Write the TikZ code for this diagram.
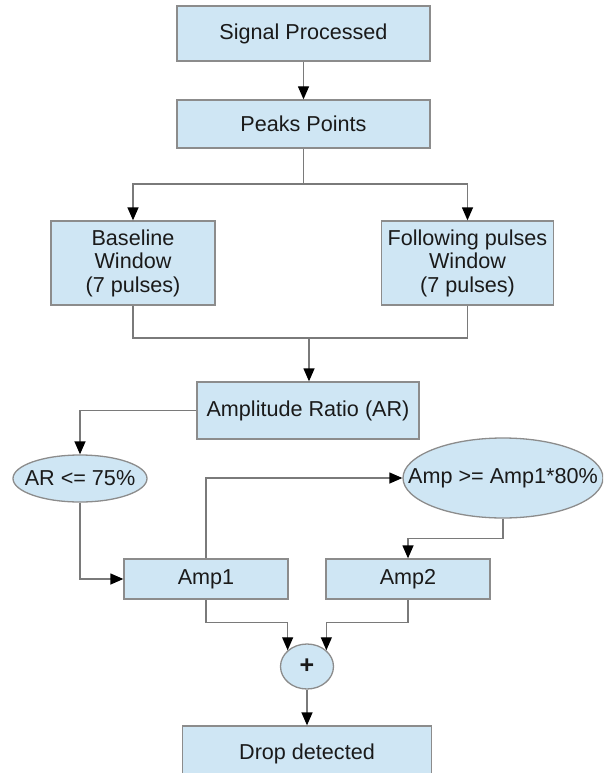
\documentclass[tikz,border=0pt]{standalone}
\usepackage{fontspec}
\setmainfont{Liberation Sans}
\usetikzlibrary{arrows.meta,shapes.geometric}
\definecolor{boxfill}{HTML}{CFE6F4}
\definecolor{boxline}{HTML}{8C8C8C}
\definecolor{conline}{HTML}{7A7A7A}
\definecolor{txt}{HTML}{1A1A1A}
\begin{document}
\begin{tikzpicture}[x=1pt,y=-1pt,
  box/.style={draw=boxline,fill=boxfill,line width=1.3pt,inner sep=0pt,align=center,text=txt,
    font=\fontsize{21.6}{23.5}\selectfont},
  oval/.style={box,ellipse},
  conn/.style={draw=conline,line width=1.3pt,-{Triangle[length=13pt,width=11pt,color=black]}},
  plain/.style={draw=conline,line width=1.3pt}]
\useasboundingbox (0,0) rectangle (603,773);
\clip (0,0) rectangle (603,773);
\node[box,minimum width=253,minimum height=55] (sig) at (303.5,33.5) {Signal Processed};
\node[box,minimum width=253,minimum height=48] (peaks) at (303.5,124) {Peaks Points};
\node[box,minimum width=164,minimum height=84] (base) at (133,263) {Baseline\\Window\\(7 pulses)};
\node[box,minimum width=172,minimum height=84] (foll) at (467.5,263) {Following pulses\\Window\\(7 pulses)};
\node[box,minimum width=222,minimum height=57] (ar) at (308,410.5) {Amplitude Ratio (AR)};
\node[oval,minimum width=134,minimum height=47] (arle) at (80,478.5) {\makebox[0pt]{AR <= 75\%}};
\node[oval,minimum width=200,minimum height=80] (ampe) at (503,478) {\makebox[0pt]{Amp >= Amp1*80\%}};
\node[box,minimum width=164,minimum height=40] (amp1) at (206,579) {Amp1};
\node[box,minimum width=164,minimum height=40] (amp2) at (408,579) {Amp2};
\node[oval,minimum width=53,minimum height=45] (plus) at (307,666.5) {\makebox[0pt]{\fontsize{25}{25}\selectfont\bfseries +}};
\node[box,minimum width=249,minimum height=55] (drop) at (307,753.5) {Drop detected};

\draw[conn] (sig) -- (peaks);
\coordinate (split) at (303.5,184);
\draw[plain] (peaks.south) -- (split);
\draw[conn] (split) -| (base.north);
\draw[conn] (split) -| (foll.north);
\coordinate (join) at (309,338);
\draw[plain] (base.south) |- (join);
\draw[plain] (foll.south) |- (join);
\draw[conn] (join) -- (join |- ar.north);
\draw[conn] (ar.west) -| (arle.north);
\draw[conn] (arle.south) |- (amp1.west);
\draw[conn] (amp1.north) |- (ampe.west);
\draw[conn] (ampe.south) -- ++(0,20) -| (amp2.north);
\draw[conn] (amp1.south) -- ++(0,23) -| (plus.140);
\draw[conn] (amp2.south) -- ++(0,23) -| (plus.40);
\draw[conn] (plus.south) -- (drop.north);
\end{tikzpicture}
\end{document}
